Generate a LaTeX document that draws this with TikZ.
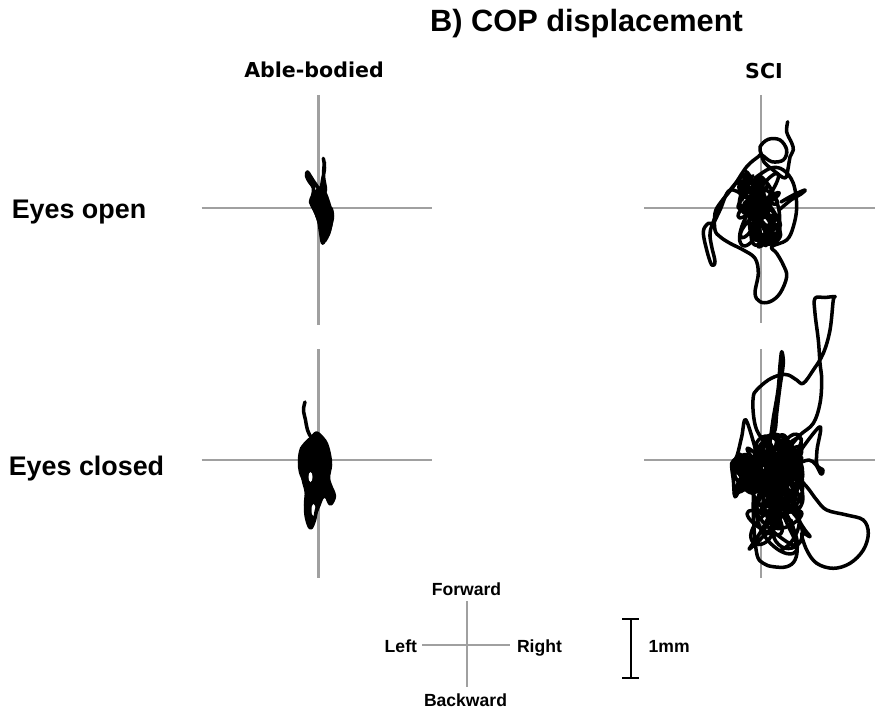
\documentclass[tikz,border=0pt]{standalone}
\usepackage{fontspec}
\setmainfont{Liberation Sans}
\newfontfamily\headfont{DejaVu Sans}
\usetikzlibrary{positioning,arrows.meta}

\definecolor{axisgray}{RGB}{160,160,160}

\tikzset{
  axisline/.style={axisgray, line width=1.15pt},
  trace/.style={line width=2pt, line join=round, line cap=round},
  titletext/.style={font=\bfseries\fontsize{17.5}{20}\selectfont, anchor=base, inner sep=0pt},
  colhead/.style={font=\headfont\bfseries\fontsize{11.7}{14}\selectfont, anchor=base, inner sep=0pt},
  rowhead/.style={font=\bfseries\fontsize{15.3}{18}\selectfont, anchor=base, inner sep=0pt},
  legtext/.style={font=\bfseries\fontsize{10}{12}\selectfont, anchor=base, inner sep=0pt},
  scalebar/.style={line width=1.2pt, {Bar[width=0.33cm]}-{Bar[width=0.33cm]}}
}

\begin{document}
\begin{tikzpicture}[x=0.02cm, y=-0.02cm]
\useasboundingbox (0,0) rectangle (875,713);

% Headings
\node[titletext] (title) at (586.5,32) {B) COP displacement};
\node[colhead] (ab) at (314,78) {Able-bodied};
\node[colhead] (sci) at (764,79) {SCI};
\node[rowhead] (eo) at (79,218) {Eyes open};
\node[rowhead] (ec) at (86.5,475) {Eyes closed};

% Axis centres
\coordinate (abEO) at (318.5,208);
\coordinate (sciEO) at (761,208);
\coordinate (abEC) at (318.5,460);
\coordinate (sciEC) at (761,460);

% Axes
\draw[axisline] (abEO) ++(0,-113) -- ++(0,230);
\draw[axisline] (abEO) ++(-117,0) -- ++(230,0);
\draw[axisline] (sciEO) ++(0,-113) -- ++(0,228);
\draw[axisline] (sciEO) ++(-117,0) -- ++(232,0);
\draw[axisline] (abEC) ++(0,-111) -- ++(0,229);
\draw[axisline] (abEC) ++(-117,0) -- ++(230,0);
\draw[axisline] (sciEC) ++(0,-111) -- ++(0,229);
\draw[axisline] (sciEC) ++(-117,0) -- ++(232,0);

% Able-bodied, eyes open
\begin{scope}[shift={(abEO)}]
\fill plot[smooth cycle, tension=0.7] coordinates {(-6,-14) (2,-22) (8,-16) (14,2) (15,10) (13,22) (10,30) (6,35) (3,30) (0,18) (-4,6) (-8,-4)};
\draw[trace] plot[smooth, tension=0.6] coordinates {(4.8,-49.7) (6,-40) (4,-28) (2,-18) (-3,-24) (-7,-30) (-11,-36) (-12,-32) (-9,-26) (-5,-20) (-6,-12) (-8,-6) (-4,2) (0,12) (2,24) (4,35) (6,30) (5,18) (8,8) (12,0) (14,8) (12,18) (9,27) (6,22) (3,10) (1,-2) (4,-12) (7,-18) (5,-32) (6,-46)};
\end{scope}

% Able-bodied, eyes closed
\begin{scope}[shift={(abEC)}]
\fill plot[smooth cycle, tension=0.6] coordinates {(-18,-12) (-10,-22) (-2,-27) (6,-20) (11,-8) (12,8) (11,20) (14,30) (16,37) (12,44) (6,38) (2,46) (-2,56) (-6,66) (-10,68) (-13,58) (-13,45) (-14,32) (-17,20) (-19,5)};
\fill[white] (-8,17) ellipse (2 and 5);
\fill[white] (-5,50) ellipse (2 and 6);
\draw[trace] plot[smooth, tension=0.6] coordinates {(-13.5,-58) (-15,-50) (-13,-40) (-11,-30) (-7,-23) (-2,-27) (4,-22) (8,-16) (11,-5) (12,5) (10,18) (13,28) (16,36) (12,44) (8,36) (4,24) (2,10) (-2,-2) (-8,-12) (-15,-14) (-18,-8) (-19,2) (-18,12) (-14,22) (-12,30) (-13,45) (-12,58) (-8,68) (-4,60) (-2,50) (1,42) (3,30)};
\end{scope}

% SCI, eyes open
\begin{scope}[shift={(sciEO)}]
\draw[trace] plot[smooth, tension=0.6] coordinates {(26.7,-86.3) (25.7,-76) (30.7,-65) (32.3,-58) (29,-51) (27.3,-41) (24,-30) (12,-38) (3,-46) (0.7,-53) (-1,-61) (7.3,-68.7) (19,-68) (25.7,-58) (22.3,-48) (10.7,-46.3) (0.7,-53) (-2.7,-51.3) (-14.3,-41.3) (-27.7,-21.3) (-41,-4.7) (-46,5.3) (-46,22) (-41,28.7) (-31,35.3) (-17.7,42) (-6,50.3) (-2.7,65.3) (-6,85.3) (-1,93.7) (9,93.7) (19,85.3) (25.7,68.7) (22.3,57) (15.7,45.3) (10.7,38.7) (25.7,32) (32.3,18.7) (35.7,-1.3) (32.3,-24.7) (22.3,-38) (10,-40) (-6,-30)};
\draw[trace] plot[smooth, tension=0.6] coordinates {(-14,-10) (-31,-18) (-41,2) (-47.7,15) (-52.7,15.3) (-57.7,23.7) (-54.3,42) (-49.3,57) (-46,53.7) (-49.3,38.7) (-51,25.3) (-47,12) (-38,-8) (-26,-24) (-20,-30)};
\draw[trace] plot[smooth, tension=0.6] coordinates {(20,-6) (32.3,-13) (44,-18) (40,-14) (30,-8) (18,2)};
\draw[trace] plot[smooth, domain=0:1500, samples=220, variable=\t] ({-2+21*(0.55*sin(1.3*\t)+0.45*sin(4.1*\t+40))}, {38*(0.55*cos(1.7*\t)+0.45*cos(3.3*\t+10))});
\draw[trace] plot[smooth, domain=0:900, samples=140, variable=\t] ({-9+14*(0.5*sin(2.3*\t)+0.5*sin(5.1*\t+70))}, {-12+22*(0.6*cos(1.9*\t+15)+0.4*cos(4.3*\t))});
\draw[trace] plot[smooth, domain=0:700, samples=110, variable=\t] ({8+12*(0.5*sin(2.1*\t+30)+0.5*sin(4.7*\t))}, {22+17*(0.6*cos(1.6*\t)+0.4*cos(3.9*\t+50))});
\end{scope}

% SCI, eyes closed
\begin{scope}[shift={(sciEC)}]
\draw[trace] plot[smooth, tension=0.6] coordinates {(28,-12) (39,-25) (52.3,-36.7) (59,-56.7) (60.7,-80) (59,-96.7) (57.3,-120) (54,-146.7) (54,-161.7) (64,-162.5) (74,-163.3) (72.3,-160) (69,-130) (62.3,-106.7) (52.3,-90) (42.3,-76.7) (35.7,-80) (27.3,-85) (19,-85) (7.3,-80) (-4.3,-70) (-7.7,-63.3) (-7.7,-46.7) (-4.3,-30) (5,-15) (12,0)};
\draw[trace] plot[smooth, tension=0.6] coordinates {(8,-20) (14,-30) (15.7,-46.7) (19,-73.3) (22.3,-96.7) (20.7,-108.3) (19,-95) (17,-70) (12,-40) (8,-10)};
\draw[trace] plot[smooth, tension=0.6] coordinates {(-4,-5) (-15,-40) (-19.3,-23.3) (-24.3,-3.3) (-29.3,3.3) (-27.7,20) (-26,36.7) (-21,26.7) (-18,10) (-14.3,0) (-8,-2) (-21,-2) (-28,2) (-25,12) (-20,6) (-10,2) (0,8)};
\draw[trace] plot[smooth, tension=0.6] coordinates {(2,5) (-6,20) (-7.7,53.3) (-4.3,93.3) (2.3,103.3) (12.3,106.7) (25.7,106.7) (34,100) (36,85) (30,60)};
\draw[trace] plot[smooth, tension=0.6] coordinates {(30,10) (45.7,26.7) (55.7,40) (65.7,50) (85.7,55) (102.3,60) (107.3,73.3) (102.3,90) (89,103.3) (72.3,108.3) (55.7,103.3) (45.7,90) (40.7,73.3) (49,76.7) (44,70) (38,60) (30,40)};
\draw[trace] plot[smooth, tension=0.6] coordinates {(40,-10) (59,-33.3) (56,-10) (56,5) (62,10) (60,14) (55,5) (48,0) (36,4)};
\draw[trace] plot[smooth, domain=0:3000, samples=420, variable=\t] ({18+24*(0.55*sin(1.3*\t)+0.45*sin(4.1*\t+40))}, {14+40*(0.55*cos(1.7*\t)+0.45*cos(3.3*\t+10))});
\draw[trace] plot[smooth, domain=0:2000, samples=280, variable=\t] ({14+28*(0.5*sin(1.1*\t+20)+0.5*sin(3.7*\t))}, {40+54*(0.6*cos(1.3*\t)+0.4*cos(2.9*\t+30))});
\draw[trace] plot[smooth, domain=0:1400, samples=200, variable=\t] ({-14+13*(0.5*sin(2.3*\t)+0.5*sin(5.3*\t+60))}, {14+20*(0.6*cos(1.7*\t+10)+0.4*cos(4.1*\t))});
\end{scope}

% Direction legend
\coordinate (lg) at (466.7,645);
\draw[axisline] (lg) ++(0,-44) -- ++(0,86);
\draw[axisline] (lg) ++(-44.7,0) -- ++(88,0);
\node[legtext] (fwd) at (466.5,595) {Forward};
\node[legtext] (bwd) at (465.5,706) {Backward};
\node[legtext, anchor=base east] (lft) at (417.3,652.7) {Left};
\node[legtext, anchor=base west] (rgt) at (516.7,652.7) {Right};

% Scale bar
\coordinate (barTop) at (630.7,618);
\coordinate (barBot) at (630.7,679);
\draw[scalebar] (barTop) -- (barBot);
\node[legtext, anchor=base west] (mm) at (648.3,652.7) {1mm};
\end{tikzpicture}
\end{document}
